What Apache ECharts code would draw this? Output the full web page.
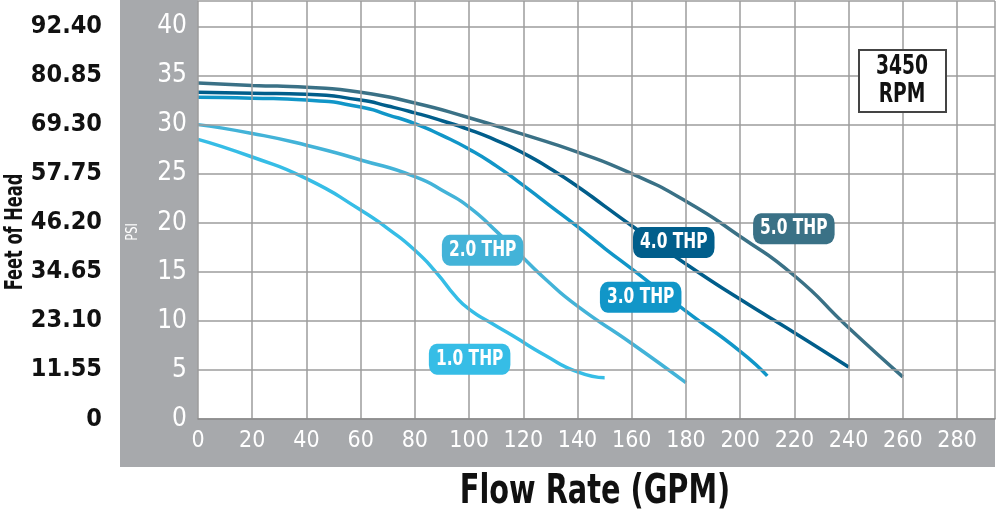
<!DOCTYPE html>
<html>
<head>
<meta charset="utf-8">
<script src="https://cdn.jsdelivr.net/npm/echarts@6/dist/echarts.min.js"></script>
<style>
html,body{margin:0;padding:0;background:#fff;}
#chart{width:1000px;height:524px;}
</style>
</head>
<body>
<div id="chart"></div>
<script>
// ---- data (GPM, PSI) ----
var seriesNames = ['1.0 THP', '2.0 THP', '3.0 THP', '4.0 THP', '5.0 THP'];
var thp10 = [[0,28.5],[20,26.7],[40,24.5],[60,21.3],[70,19.4],[80,17.2],[88,14.9],[95,12.5],[100,11.2],[108,9.8],[116,8.5],[128,6.5],[140,4.8],[150,4.2]];
var thp20 = [[0,30.0],[20,29.1],[40,27.9],[60,26.4],[80,24.7],[92,23.0],[100,21.6],[109,19.4],[119,16.7],[128,14.3],[140,11.5],[160,7.7],[180,3.7]];
var thp30 = [[0,32.8],[20,32.7],[40,32.5],[60,31.8],[70,31.0],[80,30.1],[90,28.9],[100,27.5],[110,25.8],[120,23.8],[130,21.7],[140,19.6],[150,17.4],[160,15.3],[180,11.0],[200,6.9],[210,4.4]];
var thp40 = [[0,33.3],[20,33.2],[40,33.1],[60,32.5],[70,31.9],[80,31.2],[90,30.4],[100,29.5],[110,28.4],[120,27.1],[130,25.5],[140,23.7],[150,21.7],[160,19.7],[180,15.8],[200,12.2],[220,8.8],[240,5.3]];
var thp50 = [[0,34.25],[20,34.0],[40,33.8],[60,33.3],[80,32.2],[100,30.7],[120,29.0],[140,27.2],[160,25.0],[180,22.2],[200,18.6],[220,14.6],[240,9.3],[260,4.3]];
var xTicks = [0,20,40,60,80,100,120,140,160,180,200,220,240,260,280];
var psiTicks = [0,5,10,15,20,25,30,35,40];
var feetPerPsi = 2.31;

// ---- presentation ----
var allData = [thp10, thp20, thp30, thp40, thp50];
var colors = ['#36bde6', '#43b3d8', '#1196c8', '#015e8b', '#3a7186'];
var labelAnchors = [[100.2,6.1],[105,17.2],[163.3,12.4],[175.5,18.0],[219.8,19.4]];
var FONT = "'Liberation Sans Narrow','DejaVu Sans Condensed','Arial Narrow',sans-serif";
var GREY = '#a7a9ac';

var chart = echarts.init(document.getElementById('chart'), null, {renderer:'canvas'});

var series = allData.map(function(d, i){
  return {
    name: seriesNames[i],
    type: 'line',
    data: d,
    symbol: 'none',
    smooth: 0.6,
    z: 3 + i,
    lineStyle: {color: colors[i], width: 3.5}
  };
});

var baseGraphic = [
  {type: 'rect', z: -10, shape: {x: 120, y: 0, width: 78, height: 467}, style: {fill: GREY}},
  {type: 'rect', z: -10, shape: {x: 120, y: 419, width: 875, height: 48}, style: {fill: GREY}},
  {type: 'text', z: 50, x: 133, y: 232, rotation: Math.PI/2, scaleX: 0.85,
    style: {text: 'PSI', fill: '#fff', font: '15px ' + FONT, textAlign: 'center', textVerticalAlign: 'middle'}},
  {type: 'text', z: 50, x: 15, y: 232, rotation: Math.PI/2, scaleX: 0.72,
    style: {text: 'Feet of Head', fill: '#111', font: 'bold 25px ' + FONT, textAlign: 'center', textVerticalAlign: 'middle'}},
  {type: 'text', z: 50, x: 595, y: 493, scaleX: 0.8,
    style: {text: 'Flow Rate (GPM)', fill: '#111', font: 'bold 40px ' + FONT, textAlign: 'center', textVerticalAlign: 'middle'}},
  {type: 'rect', z: 50, shape: {x: 859, y: 50, width: 87, height: 62}, style: {fill: '#fff', stroke: '#444', lineWidth: 2}},
  {type: 'text', z: 51, x: 902, y: 81, scaleX: 0.8,
    style: {text: '3450\nRPM', fill: '#111', font: 'bold 26px ' + FONT, textAlign: 'center', textVerticalAlign: 'middle', lineHeight: 28}}
];

var option = {
  animation: false,
  backgroundColor: '#fff',
  grid: {left: 198, right: 5, top: 1, bottom: 105, containLabel: false},
  xAxis: {
    type: 'value', min: 0, max: 294, interval: 20, z: 10,
    axisLine: {show: true, lineStyle: {color: '#8a8a8a', width: 1.5}},
    axisTick: {show: false},
    splitLine: {show: true, lineStyle: {color: '#9d9d9d', width: 1.5}},
    axisLabel: {
      show: true, color: '#fff', fontSize: 23, fontFamily: FONT, margin: 11,
      showMaxLabel: false,
      formatter: function(v){ return xTicks.indexOf(v) >= 0 ? String(v) : ''; }
    }
  },
  yAxis: [
    {
      type: 'value', min: 0, max: 42.6, interval: 5, z: 10,
      axisLine: {show: false},
      axisTick: {show: false},
      splitLine: {show: true, lineStyle: {color: '#9d9d9d', width: 1.5}},
      axisLabel: {
        show: true, color: '#fff', fontSize: 26, fontFamily: FONT, margin: 11,
        showMaxLabel: false,
        formatter: function(v){ return psiTicks.indexOf(v) >= 0 ? String(v) : ''; }
      }
    },
    {
      type: 'value', min: 0, max: 42.6, interval: 5, position: 'left', offset: 88, z: 10,
      axisLine: {show: false},
      axisTick: {show: false},
      splitLine: {show: false},
      axisLabel: {
        show: true, color: '#111', fontSize: 25, fontWeight: 'bold', fontFamily: FONT, margin: 8,
        showMaxLabel: false,
        formatter: function(v){
          if (psiTicks.indexOf(v) < 0) return '';
          return v === 0 ? '0' : (v * feetPerPsi).toFixed(2);
        }
      }
    }
  ],
  graphic: baseGraphic,
  series: series
};
chart.setOption(option);

// series name tags, placed through the chart's own coordinate conversion
var tags = labelAnchors.map(function(a, i){
  var p = chart.convertToPixel({gridIndex: 0}, a);
  return {
    type: 'text', z: 60, x: p[0], y: p[1], scaleX: 0.78,
    style: {
      text: seriesNames[i], fill: '#fff', font: 'bold 22px ' + FONT,
      textAlign: 'center', textVerticalAlign: 'middle',
      backgroundColor: colors[i], padding: [5, 9, 4, 9], borderRadius: 10
    }
  };
});
chart.setOption({graphic: baseGraphic.concat(tags)});
</script>
</body>
</html>
